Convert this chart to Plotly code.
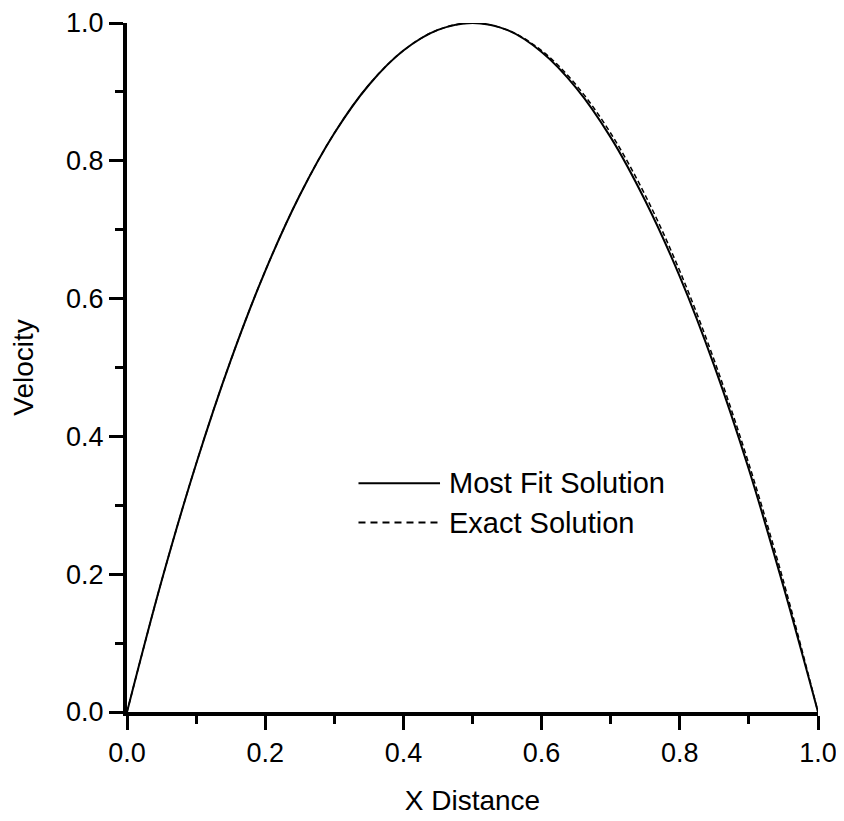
import plotly.graph_objects as go

x_vals = [0.0, 0.05, 0.1, 0.15, 0.2, 0.25, 0.3, 0.35, 0.4, 0.45, 0.5,
          0.55, 0.6, 0.65, 0.7, 0.75, 0.8, 0.85, 0.9, 0.95, 1.0]
most_fit = [0.0, 0.19, 0.36, 0.51, 0.64, 0.75, 0.84, 0.91, 0.96, 0.99, 1.0,
            0.99, 0.958, 0.906, 0.834, 0.742, 0.632, 0.502, 0.352, 0.182, 0.0]
exact = [0.0, 0.19, 0.36, 0.51, 0.64, 0.75, 0.84, 0.91, 0.96, 0.99, 1.0,
         0.99, 0.96, 0.91, 0.84, 0.75, 0.64, 0.51, 0.36, 0.19, 0.0]
series_names = ["Most Fit Solution", "Exact Solution"]
tick_vals = [0.0, 0.2, 0.4, 0.6, 0.8, 1.0]
tick_text = ["0.0", "0.2", "0.4", "0.6", "0.8", "1.0"]

FONT = "Liberation Sans, Arial, sans-serif"

fig = go.Figure()
fig.add_trace(go.Scatter(x=x_vals, y=exact, mode="lines", name=series_names[1],
                         line=dict(color="black", width=1.5, dash="5px,3px", shape="spline")))
fig.add_trace(go.Scatter(x=x_vals, y=most_fit, mode="lines", name=series_names[0],
                         line=dict(color="black", width=2, shape="spline")))

axis_common = dict(
    range=[0, 1], tickvals=tick_vals, ticktext=tick_text,
    showgrid=False, zeroline=False, showline=True, linecolor="black", linewidth=4,
    ticks="outside", ticklen=14, tickwidth=3, tickcolor="black",
    minor=dict(dtick=0.1, tick0=0, ticks="outside", ticklen=8, tickwidth=3, tickcolor="black"),
    tickfont=dict(family=FONT, size=27, color="black"),
    title_font=dict(family=FONT, size=28, color="black"),
    automargin=False,
)

fig.update_xaxes(**axis_common, title_text="X Distance", title_standoff=24)
fig.update_yaxes(**axis_common, title_text="Velocity", title_standoff=25)

# manual legend
legend_rows = [(0.332, "solid", series_names[0]), (0.275, "7px,5px", series_names[1])]
for yy, dash, label in legend_rows:
    fig.add_shape(type="line", xref="paper", yref="paper", x0=0.335, x1=0.453, y0=yy, y1=yy,
                  line=dict(color="black", width=2, dash=dash))
    fig.add_annotation(xref="paper", yref="paper", x=0.463, y=yy, text=label, showarrow=False,
                       xanchor="left", yanchor="middle",
                       font=dict(family=FONT, size=29, color="black"))

fig.update_layout(
    width=836, height=813,
    margin=dict(l=119, r=26, t=15, b=109),
    plot_bgcolor="white", paper_bgcolor="white",
    showlegend=False,
)

fig.write_html("out.html")
